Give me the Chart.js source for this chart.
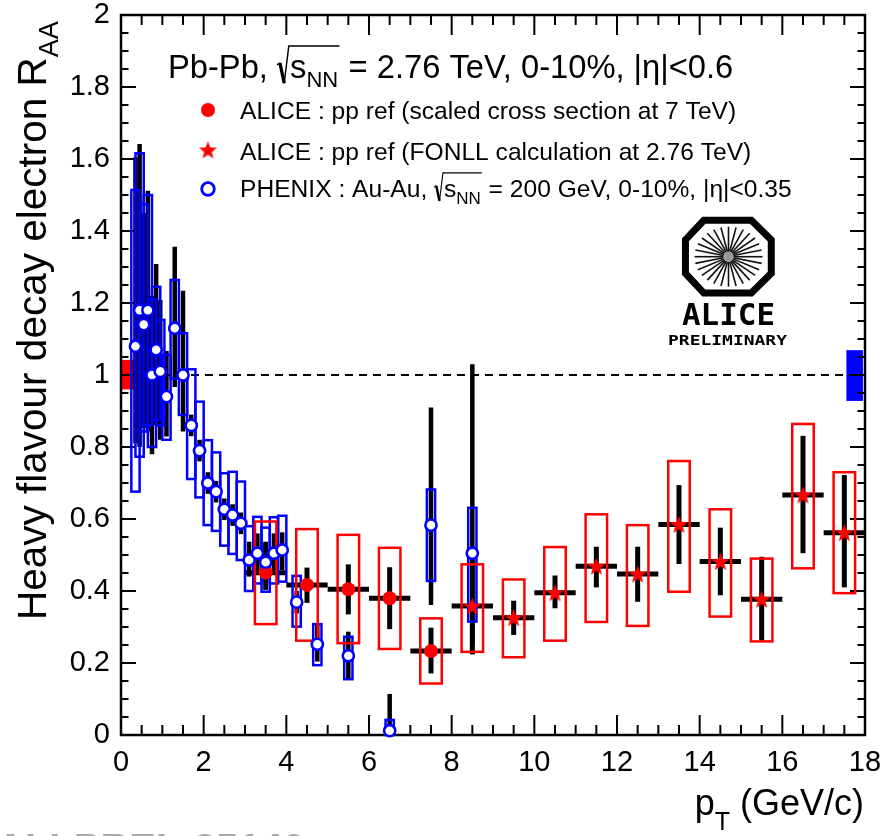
<!DOCTYPE html>
<html><head><meta charset="utf-8">
<script src="https://cdn.jsdelivr.net/npm/chart.js@4.4.1/dist/chart.umd.min.js"></script>
<style>html,body{margin:0;padding:0;background:#fff;overflow:hidden}#wrap{width:884px;height:836px;position:relative}</style>
</head><body><div id="wrap"><canvas id="c" width="884" height="836"></canvas></div>
<script>
// ---------------- DATA ----------------
// ALICE Pb-Pb, pp ref = scaled cross section at 7 TeV
const aliceCsPt     = [3.5, 4.5, 5.5, 6.5, 7.5];
const aliceCsRaa    = [0.451, 0.417, 0.405, 0.380, 0.233];
const aliceCsStatLo = [0.403, 0.367, 0.335, 0.294, 0.171];
const aliceCsStatHi = [0.537, 0.465, 0.474, 0.466, 0.298];
const aliceCsSysLo  = [0.308, 0.262, 0.255, 0.239, 0.143];
const aliceCsSysHi  = [0.593, 0.572, 0.556, 0.520, 0.324];
// ALICE Pb-Pb, pp ref = FONLL at 2.76 TeV
const aliceFoPt     = [8.5, 9.5, 10.5, 11.5, 12.5, 13.5, 14.5, 15.5, 16.5, 17.5];
const aliceFoRaa    = [0.358, 0.326, 0.395, 0.469, 0.447, 0.585, 0.482, 0.377, 0.667, 0.562];
const aliceFoStatLo = [0.224, 0.278, 0.352, 0.410, 0.370, 0.475, 0.388, 0.262, 0.505, 0.410];
const aliceFoStatHi = [0.490, 0.373, 0.443, 0.523, 0.523, 0.694, 0.576, 0.495, 0.831, 0.722];
const aliceFoSysLo  = [0.231, 0.216, 0.262, 0.314, 0.303, 0.398, 0.329, 0.260, 0.463, 0.394];
const aliceFoSysHi  = [0.474, 0.432, 0.522, 0.613, 0.583, 0.761, 0.627, 0.490, 0.864, 0.730];
const aliceBinHalf  = 0.5;
// PHENIX Au-Au 200 GeV 0-10%
const phenixPt     = [0.35,0.45,0.55,0.65,0.75,0.85,0.95,1.1,1.3,1.5,1.7,1.9,2.1,2.3,2.5,2.7,2.9,3.1,3.3,3.5,3.7,3.9,4.25,4.75,5.5,6.5,7.5,8.5];
const phenixRaa    = [1.08,1.18,1.14,1.18,1.00,1.07,1.01,0.94,1.13,1.00,0.86,0.79,0.70,0.676,0.627,0.611,0.588,0.486,0.505,0.480,0.505,0.514,0.369,0.252,0.220,0.012,0.583,0.505];
const phenixStatLo = [0.81,0.80,0.853,0.843,0.78,0.861,0.82,0.829,0.967,0.843,0.83,0.76,0.67,0.646,0.597,0.581,0.558,0.440,0.450,0.430,0.450,0.458,0.338,0.204,0.158,0.0,0.361,0.250];
const phenixStatHi = [1.605,1.642,1.45,1.512,1.22,1.308,1.208,1.067,1.356,1.234,0.89,0.82,0.73,0.706,0.657,0.641,0.618,0.537,0.560,0.530,0.560,0.563,0.400,0.308,0.287,0.114,0.910,1.030];
const phenixSysLo  = [0.676,0.773,0.843,0.86,0.80,0.875,0.86,0.82,0.99,0.889,0.711,0.66,0.583,0.567,0.526,0.503,0.486,0.400,0.421,0.398,0.421,0.426,0.301,0.194,0.155,0.0,0.428,0.315];
const phenixSysHi  = [1.514,1.616,1.474,1.50,1.21,1.245,1.153,1.056,1.264,1.116,1.016,0.926,0.819,0.785,0.727,0.731,0.704,0.580,0.606,0.576,0.605,0.609,0.442,0.308,0.273,0.042,0.682,0.631];
// normalisation uncertainties (around R_AA = 1)
const aliceNorm  = {xLo: 0.0,  xHi: 0.38,  lo: 0.960, hi: 1.042};
const phenixNorm = {xLo: 17.55, xHi: 17.95, lo: 0.928, hi: 1.069};
const unityLine  = {y: 1, xFrom: 0, xTo: 17.7};
// axis ticks
const xTickStep = 2, xMinor = 0.5;
const yTickStep = 0.2, yMinor = 0.05;

// ---------------- STYLE ----------------
const RED = '#ff0000', BLUE = '#0000ff', FONT = '"Liberation Sans", Arial, Helvetica, sans-serif';

function makeStar(rOut, rIn, color) {
  const s = Math.ceil(rOut * 2 + 2);
  const c = document.createElement('canvas'); c.width = c.height = s;
  const g = c.getContext('2d'); g.translate(s / 2, s / 2 + 0.8);
  g.beginPath();
  for (let i = 0; i < 10; i++) {
    const r = i % 2 ? rIn : rOut, a = -Math.PI / 2 + i * Math.PI / 5;
    const X = r * Math.cos(a), Y = r * Math.sin(a);
    i ? g.lineTo(X, Y) : g.moveTo(X, Y);
  }
  g.closePath(); g.fillStyle = color; g.fill();
  return c;
}
const starImg = makeStar(9.5, 4, RED);

const pts = (xa, ya) => xa.map((x, i) => ({x, y: ya[i]}));

// ---------------- DRAWING HELPERS ----------------
function drawSqrtS(ctx, x, base, size) {
  const h = size;
  ctx.save();
  ctx.lineJoin = 'miter';
  ctx.beginPath();
  ctx.moveTo(x, base - 0.40 * h);
  ctx.lineTo(x + 0.09 * h, base - 0.46 * h);
  ctx.lineWidth = Math.max(1.2, h * 0.05);
  ctx.stroke();
  ctx.beginPath();
  ctx.moveTo(x + 0.09 * h, base - 0.46 * h);
  ctx.lineTo(x + 0.22 * h, base + 0.16 * h);
  ctx.lineWidth = Math.max(2, h * 0.1);
  ctx.stroke();
  const xs0 = x + 0.40 * h;
  ctx.font = `${size}px ${FONT}`;
  const ws = ctx.measureText('s').width;
  ctx.fillText('s', xs0, base);
  const sub = Math.round(size * 0.68);
  ctx.font = `${sub}px ${FONT}`;
  const wn = ctx.measureText('NN').width;
  ctx.fillText('NN', xs0 + ws, base + 0.28 * h);
  const xe = xs0 + ws + wn + 0.04 * h;
  ctx.beginPath();
  ctx.moveTo(x + 0.22 * h, base + 0.16 * h);
  ctx.lineTo(x + 0.36 * h, base - 0.98 * h);
  ctx.lineTo(xe, base - 0.98 * h);
  ctx.lineWidth = Math.max(1, h * 0.045);
  ctx.stroke();
  ctx.restore();
  ctx.font = `${size}px ${FONT}`;
  return xe;
}
function txt(ctx, s, x, base, size) {
  ctx.font = `${size}px ${FONT}`;
  ctx.fillText(s, x, base);
  return x + ctx.measureText(s).width;
}
function fitText(ctx, s, left, base, width, font) {
  ctx.save(); ctx.font = font;
  const w = ctx.measureText(s).width;
  ctx.translate(left, base); ctx.scale(width / w, 1);
  ctx.fillText(s, 0, 0); ctx.restore();
}

// ---------------- PLUGIN ----------------
const rootStyle = {
  id: 'rootStyle',
  beforeDatasetsDraw(chart) {
    const ctx = chart.ctx, xs = chart.scales.x, ys = chart.scales.y;
    const px = v => xs.getPixelForValue(v), py = v => ys.getPixelForValue(v);
    const a = chart.chartArea;
    ctx.save();
    // normalisation box PHENIX (right)
    ctx.fillStyle = BLUE;
    ctx.fillRect(px(phenixNorm.xLo), py(phenixNorm.hi), px(phenixNorm.xHi) - px(phenixNorm.xLo), py(phenixNorm.lo) - py(phenixNorm.hi));
    // unity dashed line
    ctx.strokeStyle = '#000'; ctx.lineWidth = 2; ctx.setLineDash([8, 6]);
    ctx.beginPath(); ctx.moveTo(px(unityLine.xFrom), py(unityLine.y)); ctx.lineTo(px(unityLine.xTo), py(unityLine.y)); ctx.stroke();
    ctx.setLineDash([]);
    // normalisation box ALICE (left)
    ctx.fillStyle = RED;
    ctx.fillRect(px(aliceNorm.xLo), py(aliceNorm.hi), px(aliceNorm.xHi) - px(aliceNorm.xLo), py(aliceNorm.lo) - py(aliceNorm.hi));

    // frame + ticks
    ctx.strokeStyle = '#000'; ctx.lineWidth = 2.5;
    ctx.strokeRect(a.left, a.top, a.right - a.left, a.bottom - a.top);
    ctx.lineWidth = 2;
    ctx.beginPath();
    for (let v = xs.min; v <= xs.max + 1e-9; v += xMinor) {
      const major = Math.abs(v / xTickStep - Math.round(v / xTickStep)) < 1e-6;
      const L = major ? 20 : 10, X = px(v);
      ctx.moveTo(X, a.bottom); ctx.lineTo(X, a.bottom - L);
      ctx.moveTo(X, a.top); ctx.lineTo(X, a.top + L);
    }
    for (let v = ys.min; v <= ys.max + 1e-9; v += yMinor) {
      const major = Math.abs(v / yTickStep - Math.round(v / yTickStep)) < 1e-6;
      const L = major ? 15 : 7.5, Y = py(v);
      ctx.moveTo(a.left, Y); ctx.lineTo(a.left + L, Y);
      ctx.moveTo(a.right, Y); ctx.lineTo(a.right - L, Y);
    }
    ctx.stroke();

    // statistical error bars (black)
    ctx.strokeStyle = '#000'; ctx.lineCap = 'butt';
    ctx.lineWidth = 4.5;
    phenixPt.forEach((x, i) => {
      ctx.beginPath(); ctx.moveTo(px(x), py(phenixStatLo[i])); ctx.lineTo(px(x), py(phenixStatHi[i])); ctx.stroke();
    });
    const aliceStat = (P, Y, L, H) => P.forEach((x, i) => {
      ctx.lineWidth = 5;
      ctx.beginPath(); ctx.moveTo(px(x), py(L[i])); ctx.lineTo(px(x), py(H[i])); ctx.stroke();
      ctx.beginPath(); ctx.moveTo(px(x - aliceBinHalf), py(Y[i])); ctx.lineTo(px(x + aliceBinHalf), py(Y[i])); ctx.stroke();
    });
    aliceStat(aliceCsPt, aliceCsRaa, aliceCsStatLo, aliceCsStatHi);
    aliceStat(aliceFoPt, aliceFoRaa, aliceFoStatLo, aliceFoStatHi);

    // systematic boxes
    const boxes = (P, L, H, hw, col) => {
      ctx.strokeStyle = col; ctx.lineWidth = 2.5;
      P.forEach((x, i) => {
        const x0 = px(x - hw), x1 = px(x + hw), y0 = py(H[i]), y1 = py(L[i]);
        ctx.strokeRect(x0, y0, x1 - x0, y1 - y0);
      });
    };
    boxes(phenixPt, phenixSysLo, phenixSysHi, 0.1, BLUE);
    boxes(aliceCsPt, aliceCsSysLo, aliceCsSysHi, 0.26, RED);
    boxes(aliceFoPt, aliceFoSysLo, aliceFoSysHi, 0.26, RED);
    ctx.restore();
  },
  afterDraw(chart) {
    const ctx = chart.ctx;
    ctx.save();
    ctx.fillStyle = '#000'; ctx.strokeStyle = '#000';
    ctx.textBaseline = 'alphabetic'; ctx.textAlign = 'left';
    // header
    let x = txt(ctx, 'Pb-Pb, ', 168, 78, 32.7);
    x = drawSqrtS(ctx, x, 78, 32.7);
    txt(ctx, ' = 2.76 TeV, 0-10%, |\u03B7|<0.6', x, 78, 32.7);
    // legend
    ctx.fillStyle = RED;
    ctx.beginPath(); ctx.arc(208, 110, 7, 0, Math.PI * 2); ctx.fill();
    ctx.drawImage(starImg, 208 - starImg.width / 2, 150 - starImg.height / 2);
    ctx.strokeStyle = BLUE; ctx.lineWidth = 2.8; ctx.fillStyle = '#fff';
    ctx.beginPath(); ctx.arc(208, 189, 6.3, 0, Math.PI * 2); ctx.fill(); ctx.stroke();
    ctx.fillStyle = '#000'; ctx.strokeStyle = '#000';
    txt(ctx, 'ALICE : pp ref (scaled cross section at 7 TeV)', 240, 119, 24.6);
    txt(ctx, 'ALICE : pp ref (FONLL calculation at 2.76 TeV)', 240, 160, 24.6);
    x = txt(ctx, 'PHENIX : Au-Au, ', 240, 197, 24.6);
    x = drawSqrtS(ctx, x, 197, 24.6);
    txt(ctx, ' = 200 GeV, 0-10%, |\u03B7|<0.35', x, 197, 24.6);

    // y title
    ctx.save();
    ctx.translate(46, 620); ctx.rotate(-Math.PI / 2);
    const w = txt(ctx, 'Heavy flavour decay electron R', 0, 0, 40.5);
    txt(ctx, 'AA', w, 12, 27);
    ctx.restore();
    // x title
    ctx.font = `36px ${FONT}`;
    const wRest = ctx.measureText(' (GeV/c)').width;
    ctx.font = `25px ${FONT}`;
    const wT = ctx.measureText('T').width;
    ctx.font = `36px ${FONT}`;
    const wp = ctx.measureText('p').width;
    let xx = 864 - wRest - wT - wp;
    xx = txt(ctx, 'p', xx, 815, 36);
    xx = txt(ctx, 'T', xx, 830, 25);
    txt(ctx, ' (GeV/c)', xx, 815, 36);

    // ALICE logo
    const cx = 728.5, cy = 256.7;
    ctx.lineWidth = 7; ctx.lineJoin = 'miter';
    const o = [[701.7,216.7],[753.3,216.7],[775,238.3],[775,275],[753.3,296.7],[701.7,296.7],[681.7,275],[681.7,238.3]];
    ctx.beginPath();
    o.forEach((p, i) => {
      const X = cx + (p[0] - cx) * 0.92, Y = cy + (p[1] - cy) * 0.91;
      i ? ctx.lineTo(X, Y) : ctx.moveTo(X, Y);
    });
    ctx.closePath(); ctx.stroke();
    ctx.lineWidth = 1.6; ctx.strokeStyle = '#111';
    for (let k = 0; k < 28; k++) {
      const ang = k * Math.PI * 2 / 28;
      ctx.beginPath();
      ctx.moveTo(cx + 5 * Math.cos(ang), cy + 5 * Math.sin(ang));
      ctx.lineTo(cx + 34 * Math.cos(ang), cy + 30 * Math.sin(ang));
      ctx.stroke();
    }
    ctx.fillStyle = '#999';
    ctx.beginPath(); ctx.arc(cx, cy, 5, 0, Math.PI * 2); ctx.fill();
    ctx.fillStyle = '#000';
    fitText(ctx, 'ALICE', 682, 325, 93, `bold 30px "DejaVu Sans Mono", monospace`);
    fitText(ctx, 'PRELIMINARY', 668, 345, 119, `bold 14px "DejaVu Sans Mono", monospace`);

    // watermark
    ctx.fillStyle = '#aaaaaa';
    ctx.font = `bold 40px ${FONT}`;
    ctx.fillText('ALI-PREL-35140', -4, 861.5);
    ctx.restore();
  }
};

// ---------------- CHART ----------------
const tickFont = {family: FONT, size: 29};
new Chart(document.getElementById('c'), {
  type: 'scatter',
  data: {
    datasets: [
      {label: 'PHENIX', data: pts(phenixPt, phenixRaa), pointStyle: 'circle', pointRadius: 5.6, pointBorderWidth: 2.6,
       pointBorderColor: BLUE, pointBackgroundColor: '#fff', clip: false},
      {label: 'ALICE cs', data: pts(aliceCsPt, aliceCsRaa), pointStyle: 'circle', pointRadius: 7, pointBorderWidth: 0,
       pointBackgroundColor: RED, pointBorderColor: RED, clip: false},
      {label: 'ALICE FONLL', data: pts(aliceFoPt, aliceFoRaa), pointStyle: starImg, pointRadius: 9, clip: false}
    ]
  },
  options: {
    responsive: false, animation: false, devicePixelRatio: 1,
    layout: {padding: {left: 0, right: 19, top: 15, bottom: 0}},
    plugins: {legend: {display: false}, tooltip: {enabled: false}},
    scales: {
      x: {
        type: 'linear', min: 0, max: 18,
        afterFit(s) { s.height = 101; s.paddingLeft = 0; s.paddingRight = 0; },
        grid: {display: false, drawTicks: false}, border: {display: false},
        ticks: {stepSize: xTickStep, font: tickFont, color: '#000', padding: 11, maxRotation: 0, autoSkip: false,
                callback: v => String(v)}
      },
      y: {
        type: 'linear', min: 0, max: 2,
        afterFit(s) { s.width = 121; s.paddingTop = 0; s.paddingBottom = 0; },
        grid: {display: false, drawTicks: false}, border: {display: false},
        ticks: {stepSize: yTickStep, font: tickFont, color: '#000', padding: 11, autoSkip: false,
                callback: v => String(+v.toFixed(1))}
      }
    }
  },
  plugins: [rootStyle]
});
</script>
</body></html>
